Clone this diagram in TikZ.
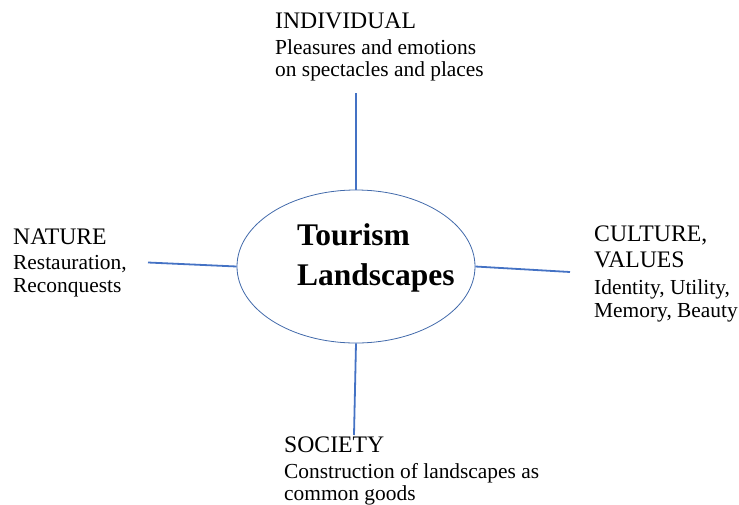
\documentclass[tikz,border=0pt]{standalone}
\usepackage{fontspec}
\setmainfont{Liberation Serif}
\usetikzlibrary{shapes.geometric}
\definecolor{linkblue}{RGB}{68,114,196}
\definecolor{rimblue}{RGB}{65,105,170}
\begin{document}
\begin{tikzpicture}[x=1pt,y=-1pt,
  head/.style={anchor=base west,inner sep=0pt,font=\fontsize{23.7}{26}\selectfont},
  sub/.style={anchor=base west,inner sep=0pt,font=\fontsize{21.4}{23}\selectfont},
  title/.style={anchor=base west,inner sep=0pt,font=\fontsize{31.5}{36}\selectfont\bfseries},
  link/.style={draw=linkblue,line width=1.8pt},
  hub/.style={ellipse,draw=rimblue,line width=0.8pt,minimum width=238pt,minimum height=153pt,inner sep=0pt}]
\useasboundingbox (0,0) rectangle (739,504);

% central ellipse with its title
\node[hub] (hub) at (356,266.5) {};
\node[title] (t1) at (297,245) {Tourism};
\node[title] (t2) at (297,285) {Landscapes};

% INDIVIDUAL block
\node[head] (ih) at (275,28.5) {INDIVIDUAL};
\node[sub] (i1) at (275,54) {Pleasures and emotions};
\node[sub] (i2) at (275,76) {on spectacles and places};

% NATURE block
\node[head] (nh) at (13,244) {NATURE};
\node[sub] (n1) at (13,269) {Restauration,};
\node[sub] (n2) at (13,292) {Reconquests};

% CULTURE block
\node[head] (ch) at (594,241) {CULTURE,};
\node[head] (ch2) at (594,267) {VALUES};
\node[sub] (c1) at (594,294) {Identity, Utility,};
\node[sub] (c2) at (594,317) {Memory, Beauty};

% SOCIETY block
\node[head] (sh) at (284,452) {SOCIETY};
\node[sub] (s1) at (284,478) {Construction of landscapes as};
\node[sub] (s2) at (284,500) {common goods};

% free ends of the four spokes
\coordinate (topend) at (356,93);
\coordinate (leftend) at (148,262.5);
\coordinate (rightend) at (570,272);
\coordinate (botend) at (354,435);

\draw[link] (topend) -- (hub.north);
\draw[link] (leftend) -- (hub.west);
\draw[link] (hub.east) -- (rightend);
\draw[link] (hub.south) -- (botend);
\end{tikzpicture}
\end{document}
